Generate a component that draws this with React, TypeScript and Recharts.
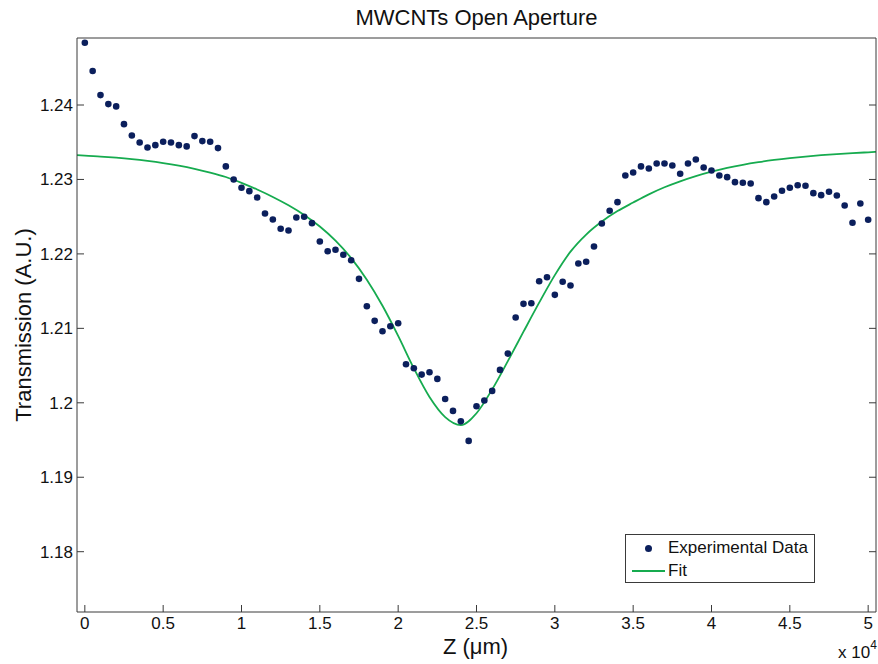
import React from "react";
import { ComposedChart, Scatter, Line, XAxis, YAxis, Legend, Label } from "recharts";

const FONT = '"Liberation Sans", Arial, Helvetica, sans-serif';
const DOT_COLOR = "#0b1f5c";
const FIT_COLOR = "#16ab4f";
const AXIS_COLOR = "#3a3a3a";
const TEXT_COLOR = "#111111";

// z position of each measurement (µm)
const zPositions = [
  0, 500, 1000, 1500, 2000, 2500, 3000, 3500, 4000, 4500,
  5000, 5500, 6000, 6500, 7000, 7500, 8000, 8500, 9000, 9500,
  10000, 10500, 11000, 11500, 12000, 12500, 13000, 13500, 14000, 14500,
  15000, 15500, 16000, 16500, 17000, 17500, 18000, 18500, 19000, 19500,
  20000, 20500, 21000, 21500, 22000, 22500, 23000, 23500, 24000, 24500,
  25000, 25500, 26000, 26500, 27000, 27500, 28000, 28500, 29000, 29500,
  30000, 30500, 31000, 31500, 32000, 32500, 33000, 33500, 34000, 34500,
  35000, 35500, 36000, 36500, 37000, 37500, 38000, 38500, 39000, 39500,
  40000, 40500, 41000, 41500, 42000, 42500, 43000, 43500, 44000, 44500,
  45000, 45500, 46000, 46500, 47000, 47500, 48000, 48500, 49000, 49500,
  50000,
];

// measured normalised transmission
const transmission = [
  1.24837, 1.24456, 1.24133, 1.24012, 1.23981, 1.23743, 1.23591, 1.23497, 1.2343, 1.23461,
  1.23507, 1.23497, 1.23461, 1.23444, 1.23582, 1.23515, 1.23507, 1.23421, 1.23175, 1.23,
  1.22888, 1.22843, 1.22758, 1.22543, 1.22462, 1.22337, 1.22315, 1.22489, 1.22499, 1.22413,
  1.22167, 1.22036, 1.22055, 1.21988, 1.21915, 1.21665, 1.21297, 1.21101, 1.20961, 1.21028,
  1.21069, 1.20517, 1.20464, 1.20379, 1.2041, 1.20321, 1.20052, 1.19891, 1.19751, 1.19488,
  1.19953, 1.2003, 1.2016, 1.20442, 1.20661, 1.21145, 1.21329, 1.21337, 1.21633, 1.21687,
  1.2145, 1.21625, 1.21575, 1.21871, 1.21894, 1.221, 1.22409, 1.22579, 1.22695, 1.23054,
  1.23094, 1.23175, 1.23148, 1.23215, 1.23215, 1.23188, 1.23077, 1.23215, 1.23269, 1.23161,
  1.23121, 1.23054, 1.23031, 1.22964, 1.22956, 1.22946, 1.22749, 1.22695, 1.22772, 1.22848,
  1.22888, 1.22923, 1.22915, 1.22816, 1.22789, 1.22835, 1.22785, 1.22651, 1.22418, 1.22677,
  1.22458,
];

// fitted curve
const fitZ = [
  -500, 0, 1000, 2000, 3000, 4000, 5000, 6000, 7000, 8000, 9000,
  10000, 11000, 12000, 13000, 14000, 15000, 16000, 17000, 18000, 19000,
  20000, 21000, 22000, 23000, 24000, 25000, 26000, 27000, 28000, 29000,
  30000, 31000, 32000, 33000, 34000, 35000, 36000, 37000, 38000, 39000,
  40000, 41000, 42000, 43000, 44000, 45000, 46000, 47000, 48000, 49000, 50000,
  50500,
];
const fitT = [
  1.23327, 1.23319, 1.23307, 1.23292, 1.23273, 1.23249, 1.2322, 1.23185, 1.23143, 1.23093, 1.23033,
  1.22955, 1.22865, 1.22765, 1.22653, 1.22523, 1.22368, 1.22178, 1.21943, 1.21653, 1.21303,
  1.20898, 1.20463, 1.20078, 1.19808, 1.197, 1.1986, 1.2018, 1.2056, 1.20955, 1.21345,
  1.21715, 1.2203, 1.2226, 1.22435, 1.22575, 1.2269, 1.228, 1.22895, 1.22975, 1.23045,
  1.23105, 1.23155, 1.23197, 1.23232, 1.23262, 1.23287, 1.23308, 1.23326, 1.23341, 1.23354, 1.23365,
  1.2337,
];

const xTicks = [0, 5000, 10000, 15000, 20000, 25000, 30000, 35000, 40000, 45000, 50000];
const yTicks = [1.18, 1.19, 1.2, 1.21, 1.22, 1.23, 1.24];

const expData = zPositions.map((z, i) => ({ z, t: transmission[i] }));
const fitData = fitZ.map((z, i) => ({ z, t: fitT[i] }));

const X_DOMAIN = [-500, 50500];
const Y_DOMAIN = [1.1719, 1.249];

function DataDot({ cx, cy }: any) {
  if (cx == null || cy == null) return null;
  return <circle cx={cx} cy={cy} r={3.3} fill={DOT_COLOR} />;
}

// box axes only carry tick marks, no labels
const NoLabel = () => <g />;

function LegendBox() {
  return (
    <div
      style={{
        position: "relative",
        width: 190,
        height: 49,
        boxSizing: "border-box",
        border: `1px solid ${AXIS_COLOR}`,
        background: "#fff",
        fontSize: 17,
        color: TEXT_COLOR,
        fontFamily: FONT,
      }}
    >
      <div style={{ position: "absolute", left: 19, top: 10, width: 7, height: 7, borderRadius: 4, background: DOT_COLOR }} />
      <div style={{ position: "absolute", left: 42, top: 3, lineHeight: "20px", whiteSpace: "nowrap" }}>Experimental Data</div>
      <div style={{ position: "absolute", left: 6, top: 35, width: 33, height: 2, background: FIT_COLOR }} />
      <div style={{ position: "absolute", left: 42, top: 26, lineHeight: "20px" }}>Fit</div>
    </div>
  );
}

const tickStyle = { fill: TEXT_COLOR, fontSize: 17 };

export default function App() {
  return (
    <div style={{ position: "absolute", left: 0, top: 0, fontFamily: FONT, background: "#fff" }}>
      <ComposedChart
        width={878}
        height={664}
        margin={{ top: 37, right: 1, bottom: 0, left: 0 }}
      >
        <XAxis
          xAxisId="b"
          dataKey="z"
          type="number"
          orientation="bottom"
          domain={X_DOMAIN}
          ticks={xTicks}
          interval={0}
          allowDataOverflow
          tickFormatter={(v) => String(v / 10000)}
          height={52}
          tickSize={-7}
          tickMargin={12}
          axisLine={{ stroke: AXIS_COLOR }}
          tickLine={{ stroke: AXIS_COLOR }}
          tick={tickStyle}
        >
          <Label
            content={(p: any) => {
              const vb = p.viewBox;
              return (
                <text x={vb.x + vb.width / 2 - 1} y={vb.y + 42} textAnchor="middle" fontSize={22} fill={TEXT_COLOR}>
                  Z (μm)
                </text>
              );
            }}
          />
          <Label
            content={(p: any) => {
              const vb = p.viewBox;
              return (
                <text x={vb.x + vb.width - 38} y={vb.y + 46} fontSize={17} fill={TEXT_COLOR}>
                  x 10<tspan dy={-9} fontSize={12}>4</tspan>
                </text>
              );
            }}
          />
        </XAxis>
        <XAxis
          xAxisId="t"
          type="number"
          orientation="top"
          domain={X_DOMAIN}
          ticks={xTicks}
          interval={0}
          allowDataOverflow
          height={1}
          tick={NoLabel}
          tickSize={-7}
          axisLine={{ stroke: AXIS_COLOR }}
          tickLine={{ stroke: AXIS_COLOR }}
        >
          <Label
            content={(p: any) => {
              const vb = p.viewBox;
              return (
                <text x={vb.x + vb.width / 2} y={25} textAnchor="middle" fontSize={22} fill={TEXT_COLOR}>
                  MWCNTs Open Aperture
                </text>
              );
            }}
          />
        </XAxis>
        <YAxis
          yAxisId="l"
          type="number"
          orientation="left"
          domain={Y_DOMAIN}
          ticks={yTicks}
          interval={0}
          allowDataOverflow
          width={77}
          tickSize={-7}
          tickMargin={11}
          axisLine={{ stroke: AXIS_COLOR }}
          tickLine={{ stroke: AXIS_COLOR }}
          tick={tickStyle}
        >
          <Label
            content={(p: any) => {
              const vb = p.viewBox;
              const cy = vb.y + vb.height / 2;
              return (
                <text x={31} y={cy} transform={`rotate(-90, 31, ${cy})`} textAnchor="middle" fontSize={22} fill={TEXT_COLOR}>
                  Transmission (A.U.)
                </text>
              );
            }}
          />
        </YAxis>
        <YAxis
          yAxisId="r"
          type="number"
          orientation="right"
          domain={Y_DOMAIN}
          ticks={yTicks}
          interval={0}
          allowDataOverflow
          width={1}
          tick={NoLabel}
          tickSize={-7}
          axisLine={{ stroke: AXIS_COLOR }}
          tickLine={{ stroke: AXIS_COLOR }}
        />
        <Legend
          layout="vertical"
          align="center"
          verticalAlign="middle"
          content={<LegendBox />}
          wrapperStyle={{ left: 625, top: 534, width: 190, height: 49 }}
        />
        <Line
          xAxisId="b"
          yAxisId="l"
          data={fitData}
          dataKey="t"
          type="monotone"
          stroke={FIT_COLOR}
          strokeWidth={1.8}
          dot={false}
          activeDot={false}
          name="Fit"
          isAnimationActive={false}
        />
        <Scatter
          xAxisId="b"
          yAxisId="l"
          data={expData}
          dataKey="t"
          name="Experimental Data"
          shape={<DataDot />}
          isAnimationActive={false}
        />
      </ComposedChart>
    </div>
  );
}
